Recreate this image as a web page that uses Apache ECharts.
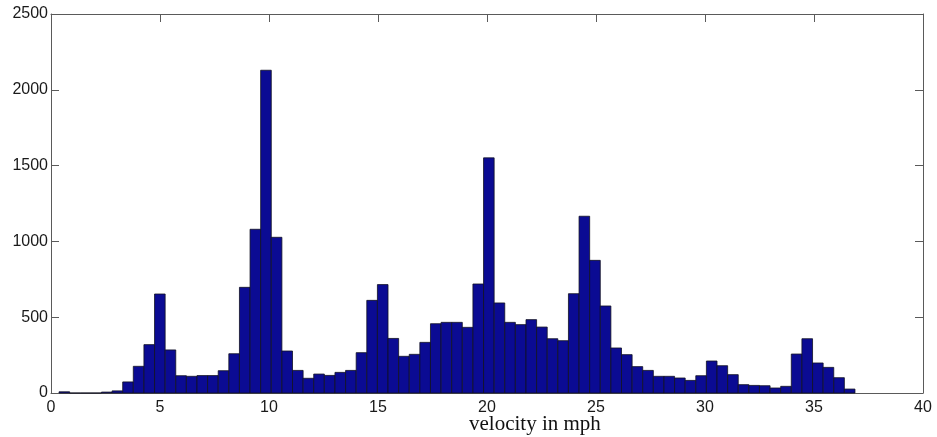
<!DOCTYPE html>
<html>
<head>
<meta charset="utf-8">
<script src="https://cdn.jsdelivr.net/npm/echarts@6/dist/echarts.min.js"></script>
<style>
  html, body { margin: 0; padding: 0; background: #fff; }
  #chart { width: 937px; height: 437px; }
</style>
</head>
<body>
<div id="chart"></div>
<script>
// Histogram of recorded velocities: 75 equal-width bins spanning the data range.
const velocityRange = [0.368, 36.88];
const binCounts = [
  8, 0, 0, 0, 6, 14,
  73, 176, 319, 653, 284, 114, 110, 115, 115, 147,
  259, 697, 1080, 2129, 1027, 277, 149, 97, 125, 116,
  136, 149, 266, 611, 715, 360, 242, 255, 334, 457,
  466, 466, 433, 719, 1551, 594, 466, 451, 484, 435,
  358, 345, 655, 1166, 875, 574, 297, 253, 174, 149,
  110, 110, 99, 83, 114, 211, 180, 121, 55, 50,
  48, 33, 44, 257, 358, 198, 169, 101, 26
];
const xTicks = [0, 5, 10, 15, 20, 25, 30, 35, 40];
const yTicks = [0, 500, 1000, 1500, 2000, 2500];
const xTitle = 'velocity in mph';

const binWidth = (velocityRange[1] - velocityRange[0]) / binCounts.length;
const bins = binCounts.map((c, i) => [
  velocityRange[0] + i * binWidth,
  velocityRange[0] + (i + 1) * binWidth,
  c
]);

const axisColor = '#5a5a5a';
const labelFont = { fontFamily: 'Liberation Sans, Arial, Helvetica, sans-serif', fontSize: 16, color: '#1a1a1a' };
const plainNumber = v => String(v);

const chart = echarts.init(document.getElementById('chart'), null, { renderer: 'canvas' });

const xBase = {
  type: 'value',
  min: xTicks[0],
  max: xTicks[xTicks.length - 1],
  interval: xTicks[1] - xTicks[0],
  splitLine: { show: false },
  axisLine: { show: true, onZero: false, lineStyle: { color: axisColor, width: 1 } },
  axisTick: { show: true, inside: true, length: 8, lineStyle: { color: axisColor } }
};
const yBase = {
  type: 'value',
  min: yTicks[0],
  max: yTicks[yTicks.length - 1],
  interval: yTicks[1] - yTicks[0],
  splitLine: { show: false },
  axisLine: { show: true, onZero: false, lineStyle: { color: axisColor, width: 1 } },
  axisTick: { show: true, inside: true, length: 8, lineStyle: { color: axisColor } }
};

chart.setOption({
  animation: false,
  backgroundColor: '#ffffff',
  grid: { left: 51, right: 14, top: 14, bottom: 44, containLabel: false },
  xAxis: [
    Object.assign({}, xBase, {
      position: 'bottom',
      axisLabel: Object.assign({ margin: 7, formatter: plainNumber }, labelFont)
    }),
    Object.assign({}, xBase, {
      position: 'top',
      axisLabel: { show: false }
    })
  ],
  yAxis: [
    Object.assign({}, yBase, {
      position: 'left',
      axisLabel: Object.assign({ margin: 3, formatter: plainNumber }, labelFont)
    }),
    Object.assign({}, yBase, {
      position: 'right',
      axisLabel: { show: false }
    })
  ],
  series: [{
    type: 'custom',
    xAxisIndex: 0,
    yAxisIndex: 0,
    data: bins,
    encode: { x: [0, 1], y: 2 },
    renderItem: function (params, api) {
      const p0 = api.coord([api.value(0), api.value(2)]);
      const p1 = api.coord([api.value(1), 0]);
      return {
        type: 'rect',
        shape: { x: p0[0], y: p0[1], width: p1[0] - p0[0], height: p1[1] - p0[1] },
        style: { fill: '#0b0b93', stroke: '#111122', lineWidth: 0.8 }
      };
    }
  }],
  graphic: [{
    type: 'text',
    left: 469,
    top: 414,
    style: {
      text: xTitle,
      font: '21px "Liberation Serif", "Times New Roman", serif',
      fill: '#111111'
    }
  }]
});
</script>
</body>
</html>
